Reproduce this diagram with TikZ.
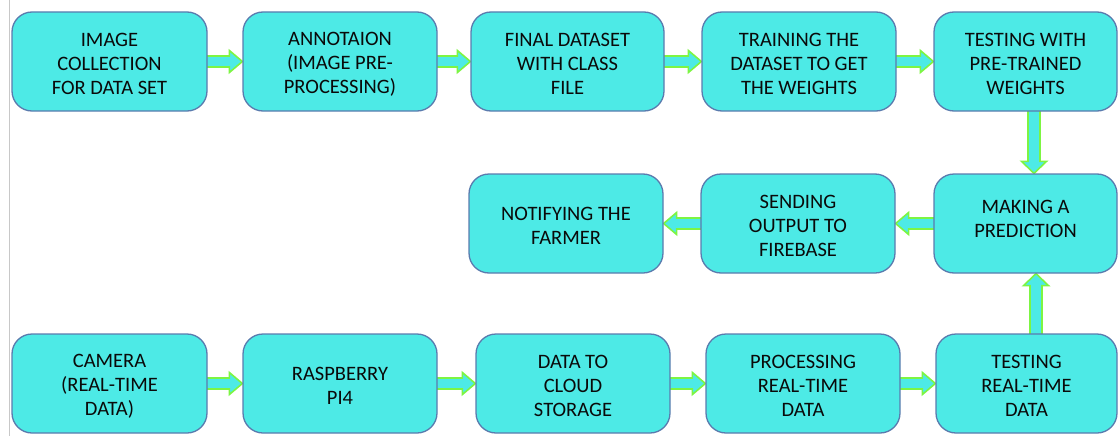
\documentclass[tikz,border=0pt]{standalone}
\usepackage{fontspec}
\setmainfont{Carlito}
\usetikzlibrary{calc}
\definecolor{boxfill}{HTML}{4DEAE6}
\definecolor{boxline}{HTML}{5A7BAE}
\definecolor{arrline}{HTML}{7DF542}
\definecolor{txt}{HTML}{0A0A0A}
\tikzset{
  stage/.style={draw=boxline, line width=1.3pt, fill=boxfill, rounded corners=20pt,
    minimum height=99pt, inner sep=0pt},
  lab/.style={align=center, text=txt, inner sep=0pt,
    font=\fontsize{20.5pt}{24pt}\selectfont},
  blockarr/.style={draw=arrline, fill=boxfill, line width=1.6pt, line join=miter}
}
\newcommand\stagetext[3][0pt]{\node[lab, yshift=-2.5pt+#1] at (#2.center) {#3};}
\newcommand\rarr[2]{\path[blockarr] let \p1=(#1.east), \p2=(#2.west) in
  (\x1-3pt,\y1+5.5pt) -- (\x2-13pt,\y1+5.5pt) -- (\x2-13pt,\y1+11pt) -- (\x2,\y1) --
  (\x2-13pt,\y1-11pt) -- (\x2-13pt,\y1-5.5pt) -- (\x1-3pt,\y1-5.5pt) -- cycle;}
\newcommand\larr[2]{\path[blockarr] let \p1=(#1.west), \p2=(#2.east) in
  (\x1+3pt,\y1+5.5pt) -- (\x2+13pt,\y1+5.5pt) -- (\x2+13pt,\y1+11pt) -- (\x2,\y1) --
  (\x2+13pt,\y1-11pt) -- (\x2+13pt,\y1-5.5pt) -- (\x1+3pt,\y1-5.5pt) -- cycle;}
\newcommand\darr[3]{\path[blockarr] let \p1=(#1.south), \p2=(#2.north) in
  (\x1+#3-6pt,\y1+3pt) -- (\x1+#3-6pt,\y2+12pt) -- (\x1+#3-12.5pt,\y2+12pt) -- (\x1+#3,\y2) --
  (\x1+#3+12.5pt,\y2+12pt) -- (\x1+#3+6pt,\y2+12pt) -- (\x1+#3+6pt,\y1+3pt) -- cycle;}
\newcommand\uarr[3]{\path[blockarr] let \p1=(#1.north), \p2=(#2.south) in
  (\x1+#3-6pt,\y1-3pt) -- (\x1+#3-6pt,\y2-12pt) -- (\x1+#3-12.5pt,\y2-12pt) -- (\x1+#3,\y2) --
  (\x1+#3+12.5pt,\y2-12pt) -- (\x1+#3+6pt,\y2-12pt) -- (\x1+#3+6pt,\y1-3pt) -- cycle;}
\begin{document}
\begin{tikzpicture}[x=1pt,y=-1pt]
\useasboundingbox (0,0) rectangle (1118,436);
\draw[draw={rgb,255:red,200;green,200;blue,200}, line width=1pt] (9.5,0) -- (9.5,436);
% boxes (coordinates only, drawn after the arrows)
\path
  (109.5,61.5) coordinate (pa1) (340,61.5) coordinate (pa2) (567.5,61.5) coordinate (pa3)
  (799,61.5) coordinate (pa4) (1025.5,61.5) coordinate (pa5)
  (566,223.5) coordinate (pb1) (798,223.5) coordinate (pb2) (1025.5,223.5) coordinate (pb3)
  (109.5,383.5) coordinate (pc1) (340,383.5) coordinate (pc2) (573,383.5) coordinate (pc3)
  (803,383.5) coordinate (pc4) (1026.5,383.5) coordinate (pc5);
\path
  node[stage, draw=none, fill=none, minimum width=195pt] (a1) at (pa1) {}
  node[stage, draw=none, fill=none, minimum width=194pt] (a2) at (pa2) {}
  node[stage, draw=none, fill=none, minimum width=193pt] (a3) at (pa3) {}
  node[stage, draw=none, fill=none, minimum width=194pt] (a4) at (pa4) {}
  node[stage, draw=none, fill=none, minimum width=183pt] (a5) at (pa5) {}
  node[stage, draw=none, fill=none, minimum width=194pt] (b1) at (pb1) {}
  node[stage, draw=none, fill=none, minimum width=194pt] (b2) at (pb2) {}
  node[stage, draw=none, fill=none, minimum width=183pt] (b3) at (pb3) {}
  node[stage, draw=none, fill=none, minimum width=195pt] (c1) at (pc1) {}
  node[stage, draw=none, fill=none, minimum width=194pt] (c2) at (pc2) {}
  node[stage, draw=none, fill=none, minimum width=194pt] (c3) at (pc3) {}
  node[stage, draw=none, fill=none, minimum width=194pt] (c4) at (pc4) {}
  node[stage, draw=none, fill=none, minimum width=181pt] (c5) at (pc5) {};
% arrows
\rarr{a1}{a2}
\rarr{a2}{a3}
\rarr{a3}{a4}
\rarr{a4}{a5}
\darr{a5}{b3}{8.5pt}
\larr{b3}{b2}
\larr{b2}{b1}
\rarr{c1}{c2}
\rarr{c2}{c3}
\rarr{c3}{c4}
\rarr{c4}{c5}
\uarr{c5}{b3}{9.5pt}
% visible boxes on top
\foreach \n/\w in {a1/195,a2/194,a3/193,a4/194,a5/183,b1/194,b2/194,b3/183,c1/195,c2/194,c3/194,c4/194,c5/181}
  \node[stage, minimum width=\w pt] (box\n) at (\n.center) {};
% texts
\stagetext{a1}{IMAGE\\COLLECTION\\FOR DATA SET}
\stagetext{a2}{ANNOTAION\\(IMAGE PRE-\\PROCESSING)}
\stagetext{a3}{FINAL DATASET\\WITH CLASS\\FILE}
\stagetext{a4}{TRAINING THE\\DATASET TO GET\\THE WEIGHTS}
\stagetext{a5}{TESTING WITH\\PRE-TRAINED\\WEIGHTS}
\stagetext{b1}{NOTIFYING THE\\FARMER}
\stagetext{b2}{SENDING\\OUTPUT TO\\FIREBASE}
\stagetext[7pt]{b3}{MAKING A\\PREDICTION}
\stagetext{c1}{CAMERA\\(REAL-TIME\\DATA)}
\stagetext{c2}{RASPBERRY\\PI4}
\stagetext{c3}{DATA TO\\CLOUD\\STORAGE}
\stagetext{c4}{PROCESSING\\REAL-TIME\\DATA}
\stagetext{c5}{TESTING\\REAL-TIME\\DATA}
\end{tikzpicture}
\end{document}
